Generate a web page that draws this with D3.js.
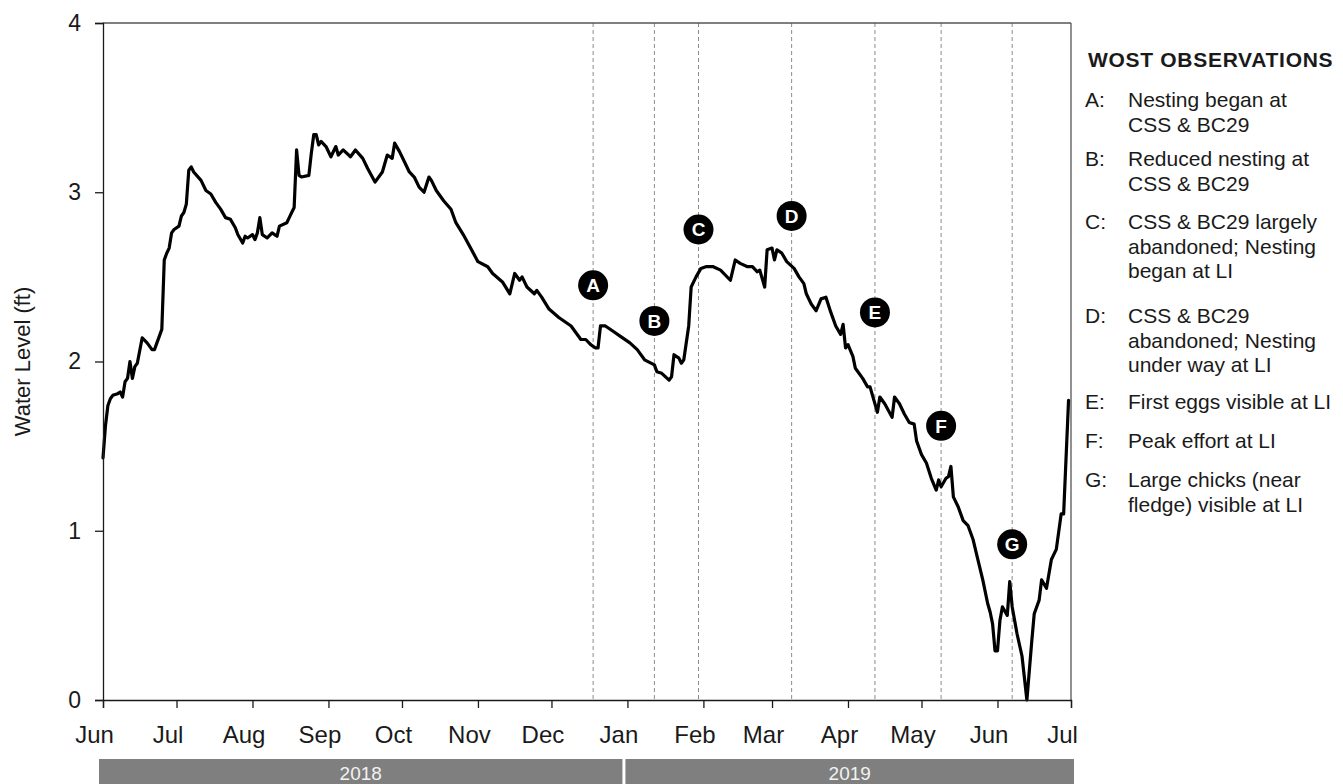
<!DOCTYPE html>
<html>
<head>
<meta charset="utf-8">
<script src="https://cdn.jsdelivr.net/npm/d3@7"></script>
<style>
  html, body { margin: 0; padding: 0; background: #fff; }
  svg { display: block; font-family: "Liberation Sans", Arial, sans-serif; }
</style>
</head>
<body>
<svg id="chart" width="1343" height="784"></svg>
<script>
// ---------------- DATA ----------------
const dates = [
  "2018-06-01","2018-06-02","2018-06-03","2018-06-04","2018-06-05","2018-06-07","2018-06-08","2018-06-09","2018-06-10","2018-06-11",
  "2018-06-12","2018-06-13","2018-06-14","2018-06-15","2018-06-17","2018-06-19","2018-06-21","2018-06-22","2018-06-24","2018-06-25",
  "2018-06-26","2018-06-27","2018-06-28","2018-06-29","2018-06-30","2018-07-02","2018-07-03","2018-07-04","2018-07-05","2018-07-06",
  "2018-07-07","2018-07-08","2018-07-11","2018-07-13","2018-07-15","2018-07-17","2018-07-19","2018-07-21","2018-07-23","2018-07-25",
  "2018-07-26","2018-07-28","2018-07-29","2018-07-30","2018-08-01","2018-08-02","2018-08-03","2018-08-04","2018-08-05","2018-08-07",
  "2018-08-09","2018-08-11","2018-08-12","2018-08-15","2018-08-16","2018-08-17","2018-08-18","2018-08-19","2018-08-20","2018-08-21",
  "2018-08-24","2018-08-25","2018-08-26","2018-08-27","2018-08-28","2018-08-29","2018-08-31","2018-09-02","2018-09-04","2018-09-05",
  "2018-09-07","2018-09-10","2018-09-12","2018-09-15","2018-09-17","2018-09-20","2018-09-23","2018-09-25","2018-09-27","2018-09-28",
  "2018-09-30","2018-10-02","2018-10-04","2018-10-06","2018-10-08","2018-10-10","2018-10-12","2018-10-13","2018-10-15","2018-10-18",
  "2018-10-21","2018-10-23","2018-10-26","2018-10-29","2018-11-01","2018-11-05","2018-11-07","2018-11-11","2018-11-14","2018-11-16",
  "2018-11-18","2018-11-19","2018-11-21","2018-11-24","2018-11-25","2018-11-27","2018-11-30","2018-12-04","2018-12-09","2018-12-11",
  "2018-12-13","2018-12-15","2018-12-17","2018-12-19","2018-12-20","2018-12-21","2018-12-23","2018-12-26","2018-12-29","2019-01-02",
  "2019-01-05","2019-01-08","2019-01-12","2019-01-13","2019-01-15","2019-01-18","2019-01-19","2019-01-20","2019-01-22","2019-01-23",
  "2019-01-24","2019-01-26","2019-01-27","2019-01-29","2019-01-31","2019-02-02","2019-02-05","2019-02-08","2019-02-12","2019-02-14",
  "2019-02-16","2019-02-19","2019-02-21","2019-02-23","2019-02-24","2019-02-26","2019-02-27","2019-03-01","2019-03-02","2019-03-03",
  "2019-03-05","2019-03-07","2019-03-10","2019-03-12","2019-03-14","2019-03-15","2019-03-17","2019-03-19","2019-03-21","2019-03-23",
  "2019-03-25","2019-03-27","2019-03-29","2019-03-30","2019-03-31","2019-04-01","2019-04-03","2019-04-04","2019-04-07","2019-04-09",
  "2019-04-10","2019-04-11","2019-04-13","2019-04-14","2019-04-16","2019-04-19","2019-04-20","2019-04-22","2019-04-24","2019-04-26",
  "2019-04-28","2019-04-29","2019-05-01","2019-05-03","2019-05-05","2019-05-07","2019-05-08","2019-05-09","2019-05-11","2019-05-12",
  "2019-05-13","2019-05-14","2019-05-16","2019-05-18","2019-05-20","2019-05-22","2019-05-24","2019-05-26","2019-05-28","2019-05-29",
  "2019-05-30","2019-05-31","2019-06-01","2019-06-02","2019-06-03","2019-06-05","2019-06-06","2019-06-07","2019-06-09","2019-06-11",
  "2019-06-13","2019-06-15","2019-06-16","2019-06-18","2019-06-19","2019-06-21","2019-06-23","2019-06-25","2019-06-27","2019-06-28",
  "2019-06-30"
];
const levels = [
  1.43,1.62,1.74,1.78,1.80,1.81,1.82,1.79,1.88,1.90,
  2.00,1.90,1.97,1.99,2.14,2.11,2.07,2.07,2.15,2.19,
  2.60,2.64,2.67,2.76,2.78,2.80,2.86,2.88,2.93,3.13,
  3.15,3.12,3.07,3.01,2.99,2.94,2.90,2.85,2.84,2.79,
  2.75,2.70,2.74,2.73,2.75,2.72,2.76,2.85,2.75,2.73,
  2.76,2.74,2.80,2.82,2.85,2.88,2.91,3.25,3.10,3.09,
  3.10,3.23,3.34,3.34,3.28,3.30,3.27,3.21,3.27,3.22,
  3.25,3.21,3.25,3.20,3.14,3.06,3.12,3.22,3.20,3.29,
  3.24,3.18,3.12,3.09,3.03,3.00,3.09,3.07,3.01,2.95,
  2.90,2.82,2.75,2.67,2.59,2.56,2.52,2.47,2.40,2.52,
  2.48,2.50,2.44,2.40,2.42,2.38,2.31,2.26,2.21,2.17,
  2.13,2.13,2.10,2.08,2.08,2.21,2.21,2.18,2.15,2.11,
  2.07,2.01,1.98,1.94,1.93,1.89,1.91,2.04,2.02,1.99,
  2.01,2.21,2.44,2.50,2.55,2.56,2.56,2.54,2.48,2.60,
  2.58,2.56,2.56,2.53,2.54,2.44,2.66,2.67,2.60,2.66,
  2.64,2.59,2.55,2.50,2.46,2.40,2.34,2.30,2.37,2.38,
  2.29,2.21,2.16,2.22,2.08,2.10,2.03,1.96,1.90,1.85,
  1.85,1.80,1.70,1.79,1.75,1.67,1.79,1.75,1.69,1.64,
  1.63,1.53,1.45,1.40,1.31,1.24,1.30,1.26,1.31,1.32,
  1.38,1.20,1.14,1.06,1.03,0.95,0.83,0.71,0.57,0.52,
  0.45,0.29,0.29,0.47,0.55,0.50,0.70,0.55,0.39,0.26,
  0.00,0.35,0.51,0.59,0.71,0.66,0.83,0.89,1.10,1.10,
  1.77
];

// Observation markers (date of observation, level where the label sits)
const markerLetters = ["A","B","C","D","E","F","G"];
const markerDates   = ["2018-12-18","2019-01-12","2019-01-30","2019-03-09","2019-04-12","2019-05-09","2019-06-07"];
const markerLevels  = [2.45, 2.24, 2.78, 2.86, 2.29, 1.62, 0.92];

// Legend text
const legendTitle = "WOST OBSERVATIONS";
const legendLines = [
  ["Nesting began at", "CSS & BC29"],
  ["Reduced nesting at", "CSS & BC29"],
  ["CSS & BC29 largely", "abandoned; Nesting", "began at LI"],
  ["CSS & BC29", "abandoned; Nesting", "under way at LI"],
  ["First eggs visible at LI"],
  ["Peak effort at LI"],
  ["Large chicks (near", "fledge) visible at LI"]
];

// Axes
const yTicks = [0, 1, 2, 3, 4];
const yTitle = "Water Level (ft)";
const xStart = "2018-06-01", xEnd = "2019-07-01";
const yearLabels = ["2018", "2019"];
const yearBounds = [["2018-06-01","2019-01-01"],["2019-01-01","2019-07-01"]];

// ---------------- LAYOUT ----------------
const parse = d3.timeParse("%Y-%m-%d");
const L = 103, R = 1071, T = 23, B = 700;
const x = d3.scaleTime().domain([parse(xStart), parse(xEnd)]).range([L, R]);
const y = d3.scaleLinear().domain([0, 4]).range([B, T]);

const svg = d3.select("#chart");
const ink = "#1a1a1a";

// dashed observation lines
svg.append("g").selectAll("line").data(markerDates).join("line")
  .attr("x1", d => x(parse(d))).attr("x2", d => x(parse(d)))
  .attr("y1", T).attr("y2", B)
  .attr("stroke", "#8c8c8c").attr("stroke-width", 1).attr("stroke-dasharray", "4,3");

// water level line
const series = dates.map((d, i) => ({ date: parse(d), v: levels[i] }));
svg.append("path").datum(series)
  .attr("fill", "none").attr("stroke", "#000").attr("stroke-width", 3.2)
  .attr("stroke-linejoin", "round").attr("stroke-linecap", "round")
  .attr("d", d3.line().x(d => x(d.date)).y(d => y(d.v)));

// frame (top & right)
svg.append("line").attr("x1", L).attr("x2", R).attr("y1", T).attr("y2", T).attr("stroke", "#555").attr("stroke-width", 1.3);
svg.append("line").attr("x1", R).attr("x2", R).attr("y1", T).attr("y2", B).attr("stroke", "#555").attr("stroke-width", 1.3);

// y axis
const yAxis = svg.append("g").attr("transform", `translate(${L},0)`)
  .call(d3.axisLeft(y).tickValues(yTicks).tickSize(8).tickPadding(14).tickFormat(d3.format("d")));
yAxis.select(".domain").attr("stroke", ink).attr("stroke-width", 1.3);
yAxis.selectAll(".tick line").attr("stroke", ink).attr("stroke-width", 1.3);
yAxis.selectAll("text").attr("font-size", 23).attr("fill", ink).attr("font-family", "Liberation Sans, Arial, sans-serif");

// x axis
const xAxis = svg.append("g").attr("transform", `translate(0,${B})`)
  .call(d3.axisBottom(x).ticks(d3.timeMonth.every(1)).tickSize(8).tickPadding(18).tickFormat(d3.timeFormat("%b")));
xAxis.select(".domain").attr("stroke", ink).attr("stroke-width", 1.3);
xAxis.selectAll(".tick line").attr("stroke", ink).attr("stroke-width", 1.3);
xAxis.selectAll("text").attr("font-size", 24).attr("fill", ink).attr("dx", -9).attr("font-family", "Liberation Sans, Arial, sans-serif");

// y title
svg.append("text").attr("transform", `translate(30,${(T + B) / 2}) rotate(-90)`)
  .attr("text-anchor", "middle").attr("font-size", 22).attr("fill", ink).text(yTitle);

// year bars
const yearG = svg.append("g");
yearBounds.forEach((b, i) => {
  const x0 = x(parse(b[0])) + (i === 0 ? -4 : -2);
  const x1 = x(parse(b[1])) + (i === 0 ? -5 : 3);
  yearG.append("rect").attr("x", x0).attr("y", 759).attr("width", x1 - x0).attr("height", 25).attr("fill", "#7f7f7f");
  yearG.append("text").attr("x", (x0 + x1) / 2).attr("y", 780).attr("text-anchor", "middle")
    .attr("font-size", 19).attr("fill", "#f2f2f2").text(yearLabels[i]);
});

// markers
const mk = svg.append("g").selectAll("g").data(markerLetters).join("g")
  .attr("transform", (d, i) => `translate(${x(parse(markerDates[i]))},${y(markerLevels[i])})`);
mk.append("circle").attr("r", 15).attr("fill", "#000");
mk.append("text").attr("text-anchor", "middle").attr("dy", "0.36em")
  .attr("font-size", 19).attr("font-weight", "bold").attr("fill", "#fff").text(d => d);

// legend
const lg = svg.append("g");
lg.append("text").attr("x", 1088).attr("y", 67).attr("font-size", 21).attr("font-weight", "bold")
  .attr("letter-spacing", 0.7).attr("fill", ink).text(legendTitle);
const itemBaselines = [107, 166, 229, 323, 409, 448, 487];
const lineH = 24.6;
legendLines.forEach((lines, i) => {
  lg.append("text").attr("x", 1085).attr("y", itemBaselines[i]).attr("font-size", 21).attr("fill", ink)
    .text(markerLetters[i] + ":");
  lines.forEach((t, j) => {
    lg.append("text").attr("x", 1128).attr("y", itemBaselines[i] + j * lineH).attr("font-size", 21)
      .attr("fill", ink).text(t);
  });
});
</script>
</body>
</html>
